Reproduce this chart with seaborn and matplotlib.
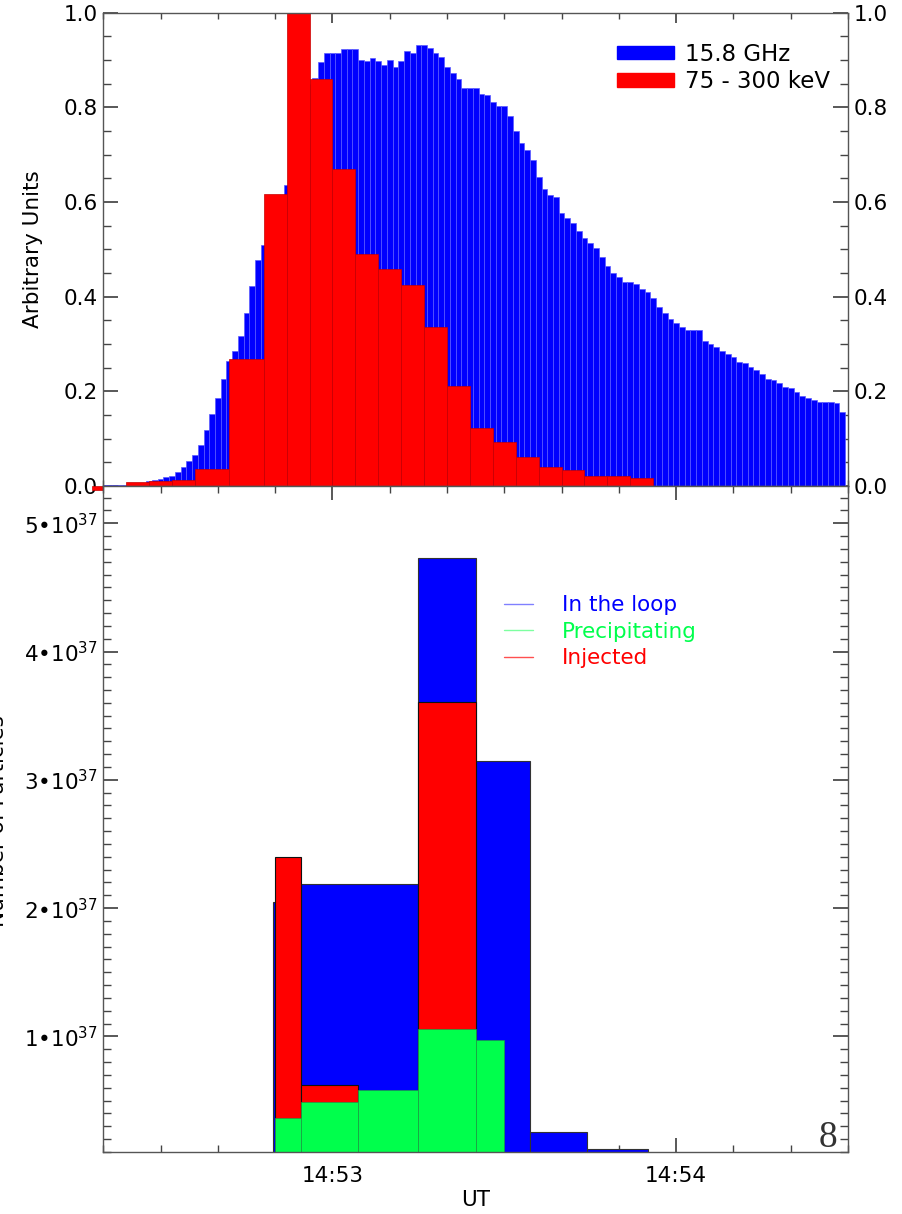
import numpy as np
import matplotlib
matplotlib.use("Agg")
import matplotlib.pyplot as plt
from matplotlib.patches import Patch
from matplotlib.lines import Line2D
from matplotlib.ticker import MultipleLocator, FuncFormatter
import seaborn as sns

sns.set_theme(style="ticks")
plt.rcParams['font.family'] = ['DejaVu Sans']
plt.rcParams['mathtext.fontset'] = 'dejavusans'
plt.rcParams['text.color'] = 'black'
plt.rcParams['axes.labelcolor'] = 'black'

# ---- top panel: seconds after 14:52:00 ----
# 15.8 GHz radio, 1 s bins centred on integer seconds
radio_t = np.arange(20, 150)
radio_flux = [0.002, 0.002, 0.002, 0.002, 0.002,
              0.005, 0.005, 0.005,
              0.010, 0.013, 0.015, 0.018, 0.022, 0.030, 0.041, 0.052, 0.066, 0.087,
              0.119, 0.152, 0.185, 0.227, 0.265, 0.285, 0.317, 0.365, 0.422, 0.477,
              0.51, 0.55, 0.58, 0.61, 0.636, 0.70, 0.76, 0.81, 0.85, 0.863,
              0.895, 0.915, 0.915, 0.915, 0.924, 0.924, 0.924, 0.901, 0.899, 0.905,
              0.897, 0.890, 0.900, 0.885, 0.898, 0.919, 0.915, 0.932, 0.932, 0.926,
              0.915, 0.906, 0.885, 0.872, 0.859, 0.840, 0.840, 0.840, 0.828, 0.826,
              0.812, 0.803, 0.803, 0.782, 0.750, 0.724, 0.709, 0.689, 0.653, 0.628,
              0.615, 0.610, 0.576, 0.566, 0.555, 0.539, 0.523, 0.514, 0.502, 0.484,
              0.464, 0.451, 0.441, 0.432, 0.432, 0.427, 0.417, 0.410, 0.398, 0.379,
              0.365, 0.352, 0.344, 0.335, 0.329, 0.329, 0.329, 0.306, 0.301, 0.294,
              0.286, 0.279, 0.273, 0.263, 0.259, 0.252, 0.244, 0.236, 0.226, 0.224,
              0.218, 0.210, 0.206, 0.199, 0.191, 0.185, 0.182, 0.177, 0.177, 0.177,
              0.175, 0.157]

# 75 - 300 keV hard X-rays, 4-6 s bins
hxr_edges = [18, 24, 28, 32, 36, 42, 48, 52, 56, 60, 64, 68, 72, 76, 80,
             84, 88, 92, 96, 100, 104, 108, 112, 116]
hxr_flux = [0.0, 0.008, 0.010, 0.013, 0.035, 0.268, 0.618, 1.0, 0.859, 0.669,
            0.490, 0.458, 0.425, 0.336, 0.212, 0.122, 0.092, 0.061, 0.041,
            0.033, 0.020, 0.020, 0.017]

# ---- bottom panel: number of particles ----
loop_edges = [49.7, 54.5, 75, 85, 94.5, 104.5, 115]
loop_n = [2.05e37, 2.19e37, 4.725e37, 3.15e37, 0.255e37, 0.125e37]
inj_edges = [50, 54.5, 64.5, 75, 85]
inj_n = [2.40e37, 0.624e37, 0.0, 3.61e37]
prec_edges = [50, 54.5, 64.5, 75, 85, 90]
prec_n = [0.364e37, 0.489e37, 0.58e37, 1.06e37, 0.974e37]

BLUE = '#0000ff'
RED = '#ff0000'
GREEN = '#00ff4c'


def mids(edges):
    e = np.asarray(edges, dtype=float)
    return list((e[:-1] + e[1:]) / 2)


fig = plt.figure(figsize=(9.03, 12.14), dpi=100)
ax1 = fig.add_axes([0.1144, 0.5997, 0.8247, 0.3898])
ax2 = fig.add_axes([0.1144, 0.0511, 0.8247, 0.5486])

# top panel
radio_edges = [float(t) - 0.5 for t in radio_t] + [float(radio_t[-1]) + 0.5]
sns.histplot(x=list(radio_t), weights=radio_flux, bins=radio_edges, ax=ax1,
             color=BLUE, alpha=1, edgecolor='#5a5aff', linewidth=0.5)
n_radio = len(ax1.patches)
sns.histplot(x=mids(hxr_edges), weights=hxr_flux, bins=hxr_edges, ax=ax1,
             color=RED, alpha=1, edgecolor='#c80000', linewidth=0.5)
# IDL-style fill that leaks a little below the baseline
for p in ax1.patches[n_radio:]:
    p.set_y(-0.008)
    p.set_height(p.get_height() + 0.008)
    p.set_clip_on(False)

ax1.set_xlim(20, 150)
ax1.set_ylim(0, 1.0)
ax1.set_ylabel('Arbitrary Units', fontsize=15.5)
ax1.yaxis.set_label_coords(-0.081, 0.5)
ax1.set_xlabel('')
ax1.yaxis.set_major_locator(MultipleLocator(0.2))
ax1.yaxis.set_minor_locator(MultipleLocator(0.05))
ax1.yaxis.set_major_formatter(FuncFormatter(lambda v, p: f'{v:.1f}'))
ax1.xaxis.set_major_locator(MultipleLocator(60))
ax1.xaxis.set_minor_locator(MultipleLocator(10))
ax1.tick_params(axis='both', which='both', direction='in', top=True, right=True,
                labelbottom=False, labelright=True, labelsize=15.5, colors='#444',
                labelcolor='black')
ax1.tick_params(axis='y', which='major', length=11, pad=4)
ax1.tick_params(axis='y', which='minor', length=5.5)
ax1.tick_params(axis='x', which='major', length=7)
ax1.tick_params(axis='x', which='minor', length=4)

leg1 = ax1.legend(handles=[Patch(color=BLUE, label='15.8 GHz'),
                           Patch(color=RED, label='75 - 300 keV')],
                  loc='upper left', bbox_to_anchor=(0.69, 0.937), frameon=False,
                  fontsize=16.5, handlelength=2.5, handleheight=0.5,
                  handletextpad=0.45, labelspacing=0.2, borderpad=0, borderaxespad=0)

# bottom panel
sns.histplot(x=mids(loop_edges), weights=loop_n, bins=loop_edges, ax=ax2,
             color=BLUE, alpha=1, edgecolor='#333333', linewidth=0.8)
sns.histplot(x=mids(inj_edges), weights=inj_n, bins=inj_edges, ax=ax2,
             color=RED, alpha=1, edgecolor='#111111', linewidth=0.8)
sns.histplot(x=mids(prec_edges), weights=prec_n, bins=prec_edges, ax=ax2,
             color=GREEN, alpha=1, edgecolor='#1f9a45', linewidth=0.5)

ax2.set_xlim(20, 150)
ax2.set_ylim(0.1e37, 5.29e37)
ax2.set_ylabel('')
ax2.set_xlabel('UT', fontsize=15.5, labelpad=3)
ax2.yaxis.set_major_locator(MultipleLocator(1e37))
ax2.yaxis.set_minor_locator(MultipleLocator(1e36))
ax2.yaxis.set_major_formatter(FuncFormatter(lambda v, p: f'{round(v / 1e37):d}•10$^{{37}}$'))
ax2.xaxis.set_major_locator(MultipleLocator(60))
ax2.xaxis.set_minor_locator(MultipleLocator(10))
ax2.xaxis.set_major_formatter(FuncFormatter(lambda v, p: f'14:{52 + int(v // 60)}'))
ax2.tick_params(axis='both', which='both', direction='in', top=True, right=True,
                labelsize=15.5, colors='#444', labelcolor='black')
ax2.tick_params(axis='y', which='major', length=11, pad=4)
ax2.tick_params(axis='y', which='minor', length=5.5)
ax2.tick_params(axis='x', which='major', length=10, pad=10)
ax2.tick_params(axis='x', which='minor', length=5)

leg2 = ax2.legend(handles=[Line2D([], [], color='#8080ff', lw=1, label='In the loop'),
                           Line2D([], [], color='#7dffa0', lw=1, label='Precipitating'),
                           Line2D([], [], color='#ff5050', lw=1, label='Injected')],
                  loc='upper left', bbox_to_anchor=(0.538, 0.836), frameon=False,
                  fontsize=15.5, handlelength=1.35, handletextpad=1.35,
                  labelspacing=0.3, borderpad=0, borderaxespad=0)
for txt, c in zip(leg2.get_texts(), [BLUE, GREEN, RED]):
    txt.set_color(c)

fig.text(-0.002, 0.3235, 'Number of Particles', rotation=90, ha='center',
         va='center', fontsize=15.5)
ax2.text(0.986, -0.004, '8', transform=ax2.transAxes, ha='right', va='bottom',
         fontsize=27, color='#333333', family=['Liberation Serif'])

for ax in (ax1, ax2):
    for s in ax.spines.values():
        s.set_color('#555555')
        s.set_linewidth(1.0)

fig.savefig('out.png', dpi=100)
